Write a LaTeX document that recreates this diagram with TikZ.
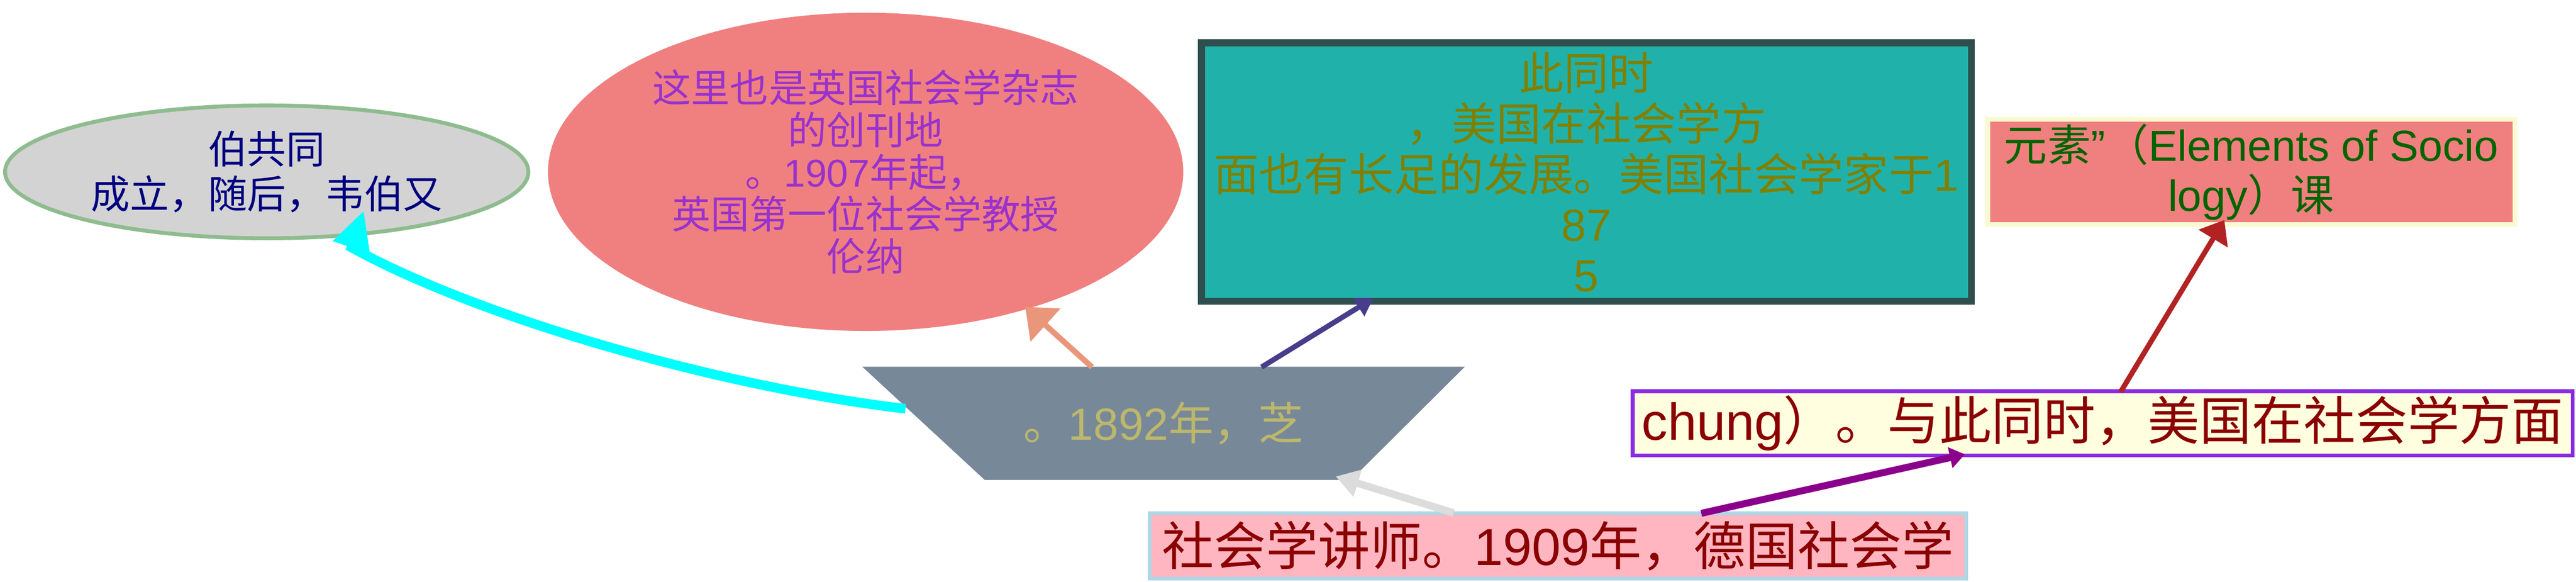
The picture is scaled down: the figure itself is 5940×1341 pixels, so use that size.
\documentclass[tikz,border=0pt]{standalone}
\usepackage{fontspec}
\setmainfont{Noto Sans CJK SC}
\newfontfamily\lat{Liberation Sans}
\usetikzlibrary{shapes.geometric,arrows.meta,calc,backgrounds}
\definecolor{lgrayc}{HTML}{D3D3D3}
\definecolor{dsgc}{HTML}{8FBC8F}
\definecolor{navyc}{HTML}{000080}
\definecolor{lcoralc}{HTML}{F08080}
\definecolor{dorchidc}{HTML}{9932CC}
\definecolor{lseagreenc}{HTML}{20B2AA}
\definecolor{dslategrayc}{HTML}{2F4F4F}
\definecolor{olivec}{HTML}{808000}
\definecolor{dgreenc}{HTML}{006400}
\definecolor{lgoldyc}{HTML}{FAFAD2}
\definecolor{slategrayc}{HTML}{778899}
\definecolor{dkhakic}{HTML}{BDB76B}
\definecolor{lpinkc}{HTML}{FFB6C1}
\definecolor{lbluec}{HTML}{ADD8E6}
\definecolor{dredc}{HTML}{8B0000}
\definecolor{lyellowc}{HTML}{FFFFE0}
\definecolor{bvioletc}{HTML}{8A2BE2}
\definecolor{cyanc}{HTML}{00FFFF}
\definecolor{dsalmonc}{HTML}{E9967A}
\definecolor{dslatebluec}{HTML}{483D8B}
\definecolor{gainsboroc}{HTML}{DCDCDC}
\definecolor{dmagentac}{HTML}{8B008B}
\definecolor{firebrickc}{HTML}{B22222}
\tikzset{
  gellipse/.style={ellipse, fill=lgrayc, draw=dsgc, line width=0.09cm, minimum width=12.06cm, minimum height=3.06cm, inner sep=0pt, align=center, text=navyc, font=\fontsize{25.6pt}{29.3pt}\selectfont},
  pellipse/.style={ellipse, fill=lcoralc, minimum width=14.64cm, minimum height=7.33cm, inner sep=0pt, align=center, text=dorchidc, font=\fontsize{25.4pt}{27.6pt}\selectfont},
  tealbox/.style={rectangle, fill=lseagreenc, draw=dslategrayc, line width=0.16cm, minimum width=17.74cm, minimum height=5.95cm, inner sep=0pt, align=center, text=olivec, font=\fontsize{29.5pt}{33pt}\selectfont},
  rbox/.style={rectangle, fill=lcoralc, draw=lgoldyc, line width=0.11cm, minimum width=12.15cm, minimum height=2.42cm, inner sep=0pt, align=center, text=dgreenc, font=\fontsize{28.45pt}{32.7pt}\selectfont},
  trap/.style={rectangle, minimum width=13.87cm, minimum height=2.59cm, inner sep=0pt, align=center, text=dkhakic, font=\fontsize{29.5pt}{33pt}\selectfont},
  trapfill/.style={fill=slategrayc},
  rmbox/.style={rectangle, fill=lyellowc, draw=bvioletc, line width=0.09cm, minimum width=21.66cm, minimum height=1.48cm, inner sep=0pt, align=center, text=dredc, font=\fontsize{34.1pt}{38pt}\selectfont},
  bbox/.style={rectangle, fill=lpinkc, draw=lbluec, line width=0.09cm, minimum width=18.82cm, minimum height=1.51cm, inner sep=0pt, align=center, text=dredc, font=\fontsize{34.1pt}{38pt}\selectfont},
  edgecyan/.style={draw=cyanc, line width=0.22cm, -{Triangle[length=0.9cm,width=0.84cm]}},
  edgesalmon/.style={draw=dsalmonc, line width=0.13cm, -{Triangle[length=0.63cm,width=1.0cm]}},
  edgedblue/.style={draw=dslatebluec, line width=0.12cm, -{Triangle[length=0.40cm,width=0.47cm]}},
  edgegray/.style={draw=gainsboroc, line width=0.17cm, -{Triangle[length=0.53cm,width=0.62cm]}},
  edgepurple/.style={draw=dmagentac, line width=0.16cm, -{Triangle[length=0.35cm,width=0.47cm]}},
  edgefire/.style={draw=firebrickc, line width=0.12cm, -{Triangle[length=0.50cm,width=0.76cm]}}
}
\begin{document}
\begin{tikzpicture}[x=0.01cm,y=-0.01cm]
\useasboundingbox (0,0) rectangle (5940,1341);
\node[gellipse] (g) at (615,396) {伯共同\\成立，随后，韦伯又};
\node[pellipse] (p) at (1996,396) {这里也是英国社会学杂志\\的创刊地\\。{\lat 1907}年起，\\英国第一位社会学教授\\伦纳};
\node[tealbox] (tb) at (3658,396.5) {此同时\\，美国在社会学方\\面也有长足的发展。美国社会学家于{\lat 1}\\{\lat 87}\\{\lat 5}};
\node[rbox] (rb) at (5191,396.5) {元素{\lat ”}（{\lat Elements of Socio}\\{\lat logy}）课};
\node[trap] (t) at (2683,975.5) {\raisebox{0.09cm}{。{\lat 1892}年，芝}};
\begin{scope}[on background layer]
\path[trapfill] (t.north west) -- (t.north east) -- ($(t.south east)+(-262,0)$) -- ($(t.south west)+(282,0)$) -- cycle;
\end{scope}
\node[rmbox] (rm) at (4848.5,975.5) {{\lat chung}）。与此同时，美国在社会学方面};
\node[bbox] (bb) at (3592.5,1258) {社会学讲师。{\lat 1909}年，德国社会学};
\draw[edgecyan] ($(t.center)+(-595,-33.5)$) .. controls (1650,890) and (1100,730) .. ($(g.center)+(195,174)$) -- ($(g.center)+(224,89)$);
\draw[edgesalmon] ($(t.center)+(-165,-129.5)$) -- ($(p.center)+(368,311)$);
\draw[edgedblue] ($(t.center)+(226,-129.5)$) -- ($(tb.center)+(-491,290.5)$);
\draw[edgegray] ($(bb.center)+(-240.5,-76)$) -- ($(t.center)+(397,122.5)$);
\draw[edgepurple] ($(bb.center)+(330.5,-75)$) -- ($(rm.center)+(-317.5,71.5)$);
\draw[edgefire] ($(rm.center)+(41.5,-72.5)$) -- ($(rb.center)+(-62,110.5)$);
\end{tikzpicture}
\end{document}
